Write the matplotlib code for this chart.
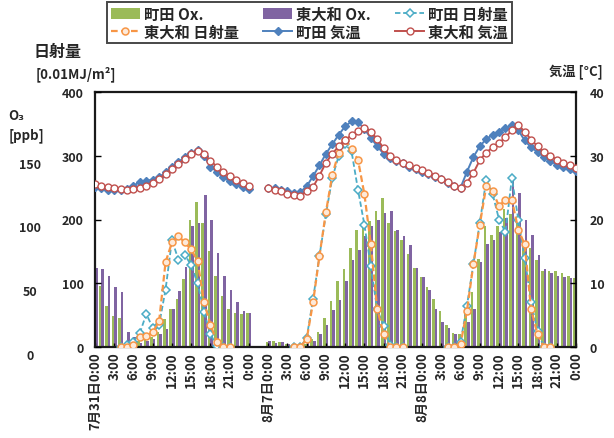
import numpy as np
import matplotlib
matplotlib.use('Agg')
import matplotlib.pyplot as plt
from matplotlib.patches import Patch
from matplotlib.transforms import ScaledTranslation

plt.rcParams['font.family'] = ['Noto Sans CJK JP', 'DejaVu Sans']
plt.rcParams['font.weight'] = 'bold'

# hourly categories: 7/31 0:00 .. 8/1 0:00, two empty slots, 8/7 0:00 .. 8/9 0:00
x_jul = np.arange(25)
x_aug = np.arange(49) + 27
day_start = [0, 27, 51]
sol_start_hour = 4

tick_pos = list(range(0, 25, 3)) + list(range(27, 76, 3))
tick_labels = ['7月31日0:00', '3:00', '6:00', '9:00', '12:00', '15:00', '18:00', '21:00', '0:00',
               '8月7日0:00', '3:00', '6:00', '9:00', '12:00', '15:00', '18:00', '21:00',
               '8月8日0:00', '3:00', '6:00', '9:00', '12:00', '15:00', '18:00', '21:00', '0:00']

# Ox [ppb]
ox_machida_jul = [50, 48, 32, 24, 23, 4, 3, 5, 6, 8, 12, 22, 30, 38, 53, 100, 114, 97, 75, 56,
                  40, 30, 27, 26, 27]
ox_higashi_jul = [62, 61, 56, 47, 43, 12, 8, 3, 5, 6, 10, 14, 30, 44, 63, 95, 97, 119, 100, 74,
                  56, 45, 35, 28, 27]
ox_machida_aug = [4, 5, 4, 2, 1, 1, 2, 6, 12, 23, 36, 52, 61, 78, 92, 95, 99, 107, 117, 97,
                  91, 84, 73, 62,
                  55, 47, 38, 28, 17, 11, 10, 27, 43, 69, 95, 88, 95, 108, 104, 100, 80, 78,
                  68, 60, 60, 60, 58, 56, 54]
ox_higashi_aug = [5, 3, 4, 2, 1, 2, 3, 5, 10, 17, 29, 37, 52, 68, 76, 87, 95, 100, 105, 107,
                  92, 87, 80, 62,
                  55, 45, 30, 20, 15, 10, 6, 20, 30, 67, 81, 84, 90, 101, 131, 121, 100, 88,
                  72, 61, 58, 56, 55, 54, 52]

# temperature [C]
temp_machida_jul = [25.1, 24.9, 24.7, 24.6, 24.7, 24.8, 25.3, 25.9, 26.1, 26.2, 26.6, 27.4,
                    28.3, 29.0, 29.8, 30.4, 30.9, 29.9, 28.3, 27.5, 26.6, 26.0, 25.5, 25.1, 24.8]
temp_higashi_jul = [25.5, 25.3, 25.1, 24.9, 24.8, 24.7, 24.8, 25.0, 25.3, 25.8, 26.4, 27.1,
                    27.9, 28.7, 29.5, 30.2, 30.8, 30.3, 29.2, 28.3, 27.4, 26.8, 26.2, 25.7, 25.3]
temp_machida_aug = [25.0, 24.9, 24.6, 24.4, 24.2, 24.3, 25.2, 26.8, 28.5, 30.3, 31.8, 33.3,
                    34.6, 35.4, 35.3, 34.2, 32.8, 31.5, 30.3, 29.6, 29.1, 28.8, 28.3, 27.9,
                    27.5, 27.1, 26.7, 26.3, 25.8, 25.2, 25.0, 27.5, 29.8, 31.5, 32.6, 33.3,
                    33.8, 34.3, 34.8, 34.0, 32.4, 31.3, 30.6, 29.8, 29.2, 28.6, 28.2, 27.9, 27.6]
temp_higashi_aug = [25.0, 24.7, 24.4, 24.0, 23.8, 23.7, 24.4, 25.1, 26.9, 28.9, 30.3, 31.5,
                    32.5, 33.2, 33.9, 34.4, 33.8, 32.6, 31.2, 30.0, 29.4, 28.9, 28.5, 28.1,
                    27.7, 27.3, 26.9, 26.4, 25.9, 25.3, 24.9, 25.8, 27.3, 29.3, 30.5, 31.3,
                    32.0, 32.9, 34.0, 34.8, 33.8, 32.5, 31.5, 30.6, 30.0, 29.4, 28.9, 28.5, 28.1]

# solar radiation [0.01MJ/m2], from 4:00 of each day
sol_machida = [
    [0, 3, 8, 22, 52, 30, 35, 90, 168, 137, 145, 128, 100, 55, 20, 2, 0, 0],
    [0, 0, 14, 75, 143, 208, 265, 300, 318, 307, 247, 192, 127, 59, 33, 3, 0, 0],
    [0, 0, 8, 65, 130, 195, 262, 240, 200, 180, 265, 200, 140, 70, 25, 0, 0],
]
sol_higashi = [
    [0, 0, 3, 16, 18, 23, 41, 133, 164, 174, 164, 153, 135, 70, 35, 8, 0, 0],
    [0, 0, 12, 70, 143, 211, 270, 305, 325, 310, 294, 240, 162, 60, 20, 0, 0, 0],
    [0, 0, 5, 57, 130, 192, 252, 244, 221, 231, 231, 184, 161, 59, 20, 0, 0],
]

GREEN = '#9BBB59'
PURPLE = '#8064A2'
CYAN = '#4BACC6'
ORANGE = '#F79646'
BLUE = '#4F81BD'
RED = '#C0504D'
TXT = '#262626'

fig = plt.figure(figsize=(6.14, 4.39), dpi=100)
ax_o3 = fig.add_axes([95 / 614, 1 - 348 / 439, (576 - 95) / 614, (348 - 93) / 439])
ax_sol = ax_o3.twinx()
ax_t = ax_o3.twinx()

# Ox bars
w = 0.4
ax_o3.bar(x_jul - w / 2, ox_machida_jul, w, color=GREEN, linewidth=0)
ax_o3.bar(x_jul + w / 2, ox_higashi_jul, w, color=PURPLE, linewidth=0)
ax_o3.bar(x_aug - w / 2, ox_machida_aug, w, color=GREEN, linewidth=0)
ax_o3.bar(x_aug + w / 2, ox_higashi_aug, w, color=PURPLE, linewidth=0)

# solar radiation
for d in range(3):
    xs = day_start[d] + sol_start_hour + np.arange(len(sol_machida[d]))
    l_cyan, = ax_sol.plot(xs, sol_machida[d], color=CYAN, lw=1.3, dashes=(3, 1.5),
                          marker='D', ms=4.5, mfc='white', mec=CYAN, mew=1.1)
for d in range(3):
    xs = day_start[d] + sol_start_hour + np.arange(len(sol_higashi[d]))
    l_orange, = ax_sol.plot(xs, sol_higashi[d], color=ORANGE, lw=1.6, dashes=(3, 1.5),
                            marker='o', ms=5, mfc='#FDE9D9', mec=ORANGE, mew=1.1)

# temperature
ax_t.plot(x_jul, temp_machida_jul, color=BLUE, lw=1.4, marker='D', ms=4.5, mfc=BLUE, mec=BLUE)
l_blue, = ax_t.plot(x_aug, temp_machida_aug, color=BLUE, lw=1.4, marker='D', ms=4.5,
                    mfc=BLUE, mec=BLUE)
ax_t.plot(x_jul, temp_higashi_jul, color=RED, lw=1.4, marker='o', ms=5, mfc='white',
          mec=RED, mew=1)
l_red, = ax_t.plot(x_aug, temp_higashi_aug, color=RED, lw=1.4, marker='o', ms=5,
                   mfc='white', mec=RED, mew=1)

# axes
ax_o3.set_xlim(0, 75)
ax_o3.set_ylim(0, 200)
ax_sol.set_ylim(0, 400)
ax_t.set_ylim(0, 40)

ax_o3.set_xticks(tick_pos)
ax_o3.set_xticklabels(tick_labels, rotation=90, fontsize=9.5, color=TXT)
ax_o3.tick_params(axis='x', direction='in', length=3, width=1, pad=3)

ax_o3.set_yticks([0, 50, 100, 150])
ax_o3.tick_params(axis='y', length=0, pad=47, labelsize=9, labelcolor=TXT)
shift = ScaledTranslation(0, -7 / 100, fig.dpi_scale_trans)
for lbl in ax_o3.get_yticklabels():
    lbl.set_horizontalalignment('center')
    lbl.set_transform(lbl.get_transform() + shift)

ax_sol.yaxis.tick_left()
ax_sol.set_yticks(np.arange(0, 401, 100))
ax_sol.tick_params(axis='y', direction='in', length=4, width=1, pad=8, labelsize=9,
                   labelcolor=TXT)
ax_t.set_yticks(np.arange(0, 41, 10))
ax_t.tick_params(axis='y', direction='in', length=4, width=1, pad=10, labelsize=9,
                 labelcolor=TXT)

for sp in ax_o3.spines.values():
    sp.set_linewidth(1.6)
    sp.set_color('#1a1a1a')
for a in (ax_sol, ax_t):
    for sp in a.spines.values():
        sp.set_visible(False)

# axis titles
fig.text(58 / 614, 1 - 52 / 439, '日射量', ha='center', va='center', fontsize=11.5, color=TXT)
fig.text(76 / 614, 1 - 74 / 439, '[0.01MJ/m²]', ha='center', va='center', fontsize=9.5,
         color=TXT)
fig.text(8 / 614, 1 - 116 / 439, 'O₃', ha='left', va='center', fontsize=9.5, color=TXT)
fig.text(27 / 614, 1 - 136 / 439, '[ppb]', ha='center', va='center', fontsize=9.5, color=TXT)
fig.text(549 / 614, 1 - 72 / 439, '気温 [°C]', ha='left', va='center', fontsize=9.5, color=TXT)

# legend
h_green = Patch(facecolor=GREEN, label='町田 Ox.')
h_purple = Patch(facecolor=PURPLE, label='東大和 Ox.')
l_cyan.set_label('町田 日射量')
l_orange.set_label('東大和 日射量')
l_blue.set_label('町田 気温')
l_red.set_label('東大和 気温')
handles = [h_green, l_orange, h_purple, l_blue, l_cyan, l_red]
leg = fig.legend(handles=handles, ncol=3, loc='upper left',
                 bbox_to_anchor=(107 / 614, 1 - 3 / 439),
                 borderaxespad=0, fontsize=11, handlelength=1.9, handletextpad=0.25,
                 columnspacing=1.6, labelspacing=0.1, borderpad=0.25, frameon=True,
                 fancybox=False)
leg.get_frame().set_edgecolor('#1a1a1a')
leg.get_frame().set_linewidth(1.4)
for t in leg.get_texts():
    t.set_color(TXT)

fig.savefig('out.png', dpi=100)
